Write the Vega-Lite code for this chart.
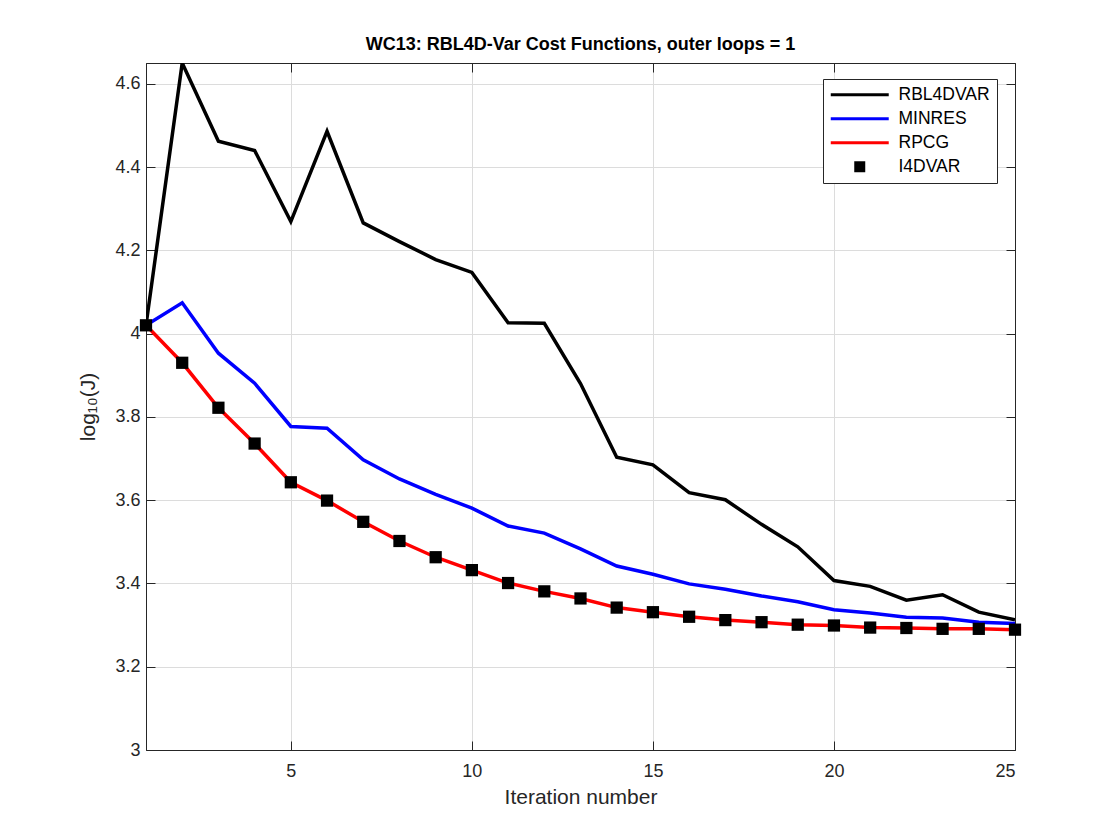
{
  "$schema": "https://vega.github.io/schema/vega-lite/v6.json",
  "autosize": {"type": "none"},
  "padding": {"left": 146, "top": 63, "right": 105, "bottom": 90},
  "width": 869,
  "height": 687,
  "background": "white",
  "config": {
    "font": "Liberation Sans",
    "view": {"stroke": "#262626", "strokeWidth": 1}
  },
  "title": {
    "text": "WC13: RBL4D-Var Cost Functions, outer loops = 1",
    "fontSize": 18,
    "fontWeight": "bold",
    "color": "#000000",
    "anchor": "middle",
    "offset": 9
  },
  "data": {
    "values": [
      {"iter": 1, "series": "RBL4DVAR", "value": 4.02},
      {"iter": 2, "series": "RBL4DVAR", "value": 4.65},
      {"iter": 3, "series": "RBL4DVAR", "value": 4.462},
      {"iter": 4, "series": "RBL4DVAR", "value": 4.44},
      {"iter": 5, "series": "RBL4DVAR", "value": 4.269},
      {"iter": 6, "series": "RBL4DVAR", "value": 4.486},
      {"iter": 7, "series": "RBL4DVAR", "value": 4.266},
      {"iter": 8, "series": "RBL4DVAR", "value": 4.221},
      {"iter": 9, "series": "RBL4DVAR", "value": 4.178},
      {"iter": 10, "series": "RBL4DVAR", "value": 4.147},
      {"iter": 11, "series": "RBL4DVAR", "value": 4.026},
      {"iter": 12, "series": "RBL4DVAR", "value": 4.025},
      {"iter": 13, "series": "RBL4DVAR", "value": 3.88},
      {"iter": 14, "series": "RBL4DVAR", "value": 3.703},
      {"iter": 15, "series": "RBL4DVAR", "value": 3.685},
      {"iter": 16, "series": "RBL4DVAR", "value": 3.618},
      {"iter": 17, "series": "RBL4DVAR", "value": 3.601},
      {"iter": 18, "series": "RBL4DVAR", "value": 3.542},
      {"iter": 19, "series": "RBL4DVAR", "value": 3.488},
      {"iter": 20, "series": "RBL4DVAR", "value": 3.407},
      {"iter": 21, "series": "RBL4DVAR", "value": 3.393},
      {"iter": 22, "series": "RBL4DVAR", "value": 3.36},
      {"iter": 23, "series": "RBL4DVAR", "value": 3.373},
      {"iter": 24, "series": "RBL4DVAR", "value": 3.331},
      {"iter": 25, "series": "RBL4DVAR", "value": 3.313},
      {"iter": 1, "series": "MINRES", "value": 4.02},
      {"iter": 2, "series": "MINRES", "value": 4.074},
      {"iter": 3, "series": "MINRES", "value": 3.953},
      {"iter": 4, "series": "MINRES", "value": 3.881},
      {"iter": 5, "series": "MINRES", "value": 3.777},
      {"iter": 6, "series": "MINRES", "value": 3.773},
      {"iter": 7, "series": "MINRES", "value": 3.697},
      {"iter": 8, "series": "MINRES", "value": 3.651},
      {"iter": 9, "series": "MINRES", "value": 3.614},
      {"iter": 10, "series": "MINRES", "value": 3.581},
      {"iter": 11, "series": "MINRES", "value": 3.538},
      {"iter": 12, "series": "MINRES", "value": 3.521},
      {"iter": 13, "series": "MINRES", "value": 3.483},
      {"iter": 14, "series": "MINRES", "value": 3.442},
      {"iter": 15, "series": "MINRES", "value": 3.422},
      {"iter": 16, "series": "MINRES", "value": 3.399},
      {"iter": 17, "series": "MINRES", "value": 3.386},
      {"iter": 18, "series": "MINRES", "value": 3.37},
      {"iter": 19, "series": "MINRES", "value": 3.356},
      {"iter": 20, "series": "MINRES", "value": 3.337},
      {"iter": 21, "series": "MINRES", "value": 3.329},
      {"iter": 22, "series": "MINRES", "value": 3.319},
      {"iter": 23, "series": "MINRES", "value": 3.317},
      {"iter": 24, "series": "MINRES", "value": 3.307},
      {"iter": 25, "series": "MINRES", "value": 3.304},
      {"iter": 1, "series": "RPCG", "value": 4.02},
      {"iter": 2, "series": "RPCG", "value": 3.93},
      {"iter": 3, "series": "RPCG", "value": 3.822},
      {"iter": 4, "series": "RPCG", "value": 3.736},
      {"iter": 5, "series": "RPCG", "value": 3.643},
      {"iter": 6, "series": "RPCG", "value": 3.599},
      {"iter": 7, "series": "RPCG", "value": 3.548},
      {"iter": 8, "series": "RPCG", "value": 3.502},
      {"iter": 9, "series": "RPCG", "value": 3.463},
      {"iter": 10, "series": "RPCG", "value": 3.432},
      {"iter": 11, "series": "RPCG", "value": 3.401},
      {"iter": 12, "series": "RPCG", "value": 3.381},
      {"iter": 13, "series": "RPCG", "value": 3.364},
      {"iter": 14, "series": "RPCG", "value": 3.342},
      {"iter": 15, "series": "RPCG", "value": 3.331},
      {"iter": 16, "series": "RPCG", "value": 3.32},
      {"iter": 17, "series": "RPCG", "value": 3.312},
      {"iter": 18, "series": "RPCG", "value": 3.307},
      {"iter": 19, "series": "RPCG", "value": 3.301},
      {"iter": 20, "series": "RPCG", "value": 3.299},
      {"iter": 21, "series": "RPCG", "value": 3.294},
      {"iter": 22, "series": "RPCG", "value": 3.293},
      {"iter": 23, "series": "RPCG", "value": 3.291},
      {"iter": 24, "series": "RPCG", "value": 3.291},
      {"iter": 25, "series": "RPCG", "value": 3.289},
      {"iter": 1, "series": "I4DVAR", "value": 4.02},
      {"iter": 2, "series": "I4DVAR", "value": 3.93},
      {"iter": 3, "series": "I4DVAR", "value": 3.822},
      {"iter": 4, "series": "I4DVAR", "value": 3.736},
      {"iter": 5, "series": "I4DVAR", "value": 3.643},
      {"iter": 6, "series": "I4DVAR", "value": 3.599},
      {"iter": 7, "series": "I4DVAR", "value": 3.548},
      {"iter": 8, "series": "I4DVAR", "value": 3.502},
      {"iter": 9, "series": "I4DVAR", "value": 3.463},
      {"iter": 10, "series": "I4DVAR", "value": 3.432},
      {"iter": 11, "series": "I4DVAR", "value": 3.401},
      {"iter": 12, "series": "I4DVAR", "value": 3.381},
      {"iter": 13, "series": "I4DVAR", "value": 3.364},
      {"iter": 14, "series": "I4DVAR", "value": 3.342},
      {"iter": 15, "series": "I4DVAR", "value": 3.331},
      {"iter": 16, "series": "I4DVAR", "value": 3.32},
      {"iter": 17, "series": "I4DVAR", "value": 3.312},
      {"iter": 18, "series": "I4DVAR", "value": 3.307},
      {"iter": 19, "series": "I4DVAR", "value": 3.301},
      {"iter": 20, "series": "I4DVAR", "value": 3.299},
      {"iter": 21, "series": "I4DVAR", "value": 3.294},
      {"iter": 22, "series": "I4DVAR", "value": 3.293},
      {"iter": 23, "series": "I4DVAR", "value": 3.291},
      {"iter": 24, "series": "I4DVAR", "value": 3.291},
      {"iter": 25, "series": "I4DVAR", "value": 3.289}
    ]
  },
  "layer": [
    {
      "transform": [{"filter": "datum.series !== 'I4DVAR'"}],
      "mark": {"type": "line", "strokeWidth": 3.5, "clip": true},
      "encoding": {
        "x": {
          "field": "iter", "type": "quantitative",
          "scale": {"domain": [1, 25], "nice": false, "zero": false},
          "axis": {
            "orient": "bottom",
            "title": "Iteration number",
            "titleFontSize": 21, "titleFontWeight": "normal", "titleColor": "#262626",
            "titlePadding": 6,
            "values": [5, 10, 15, 20, 25],
            "labelFontSize": 18, "labelColor": "#262626",
            "tickSize": -9, "tickColor": "#262626", "labelPadding": 21,
            "domainColor": "#262626",
            "grid": true, "gridColor": "#dcdcdc", "gridWidth": 1
          }
        },
        "y": {
          "field": "value", "type": "quantitative",
          "scale": {"domain": [3, 4.65], "nice": false, "zero": false},
          "axis": {
            "orient": "left",
            "title": "log₁₀(J)",
            "titleFontSize": 21, "titleFontWeight": "normal", "titleColor": "#262626",
            "titlePadding": 16,
            "values": [3, 3.2, 3.4, 3.6, 3.8, 4, 4.2, 4.4, 4.6],
            "format": "~g",
            "labelFontSize": 18, "labelColor": "#262626",
            "tickSize": -9, "tickColor": "#262626", "labelPadding": 15,
            "domainColor": "#262626",
            "grid": true, "gridColor": "#dcdcdc", "gridWidth": 1
          }
        },
        "color": {
          "field": "series", "type": "nominal",
          "scale": {
            "domain": ["RBL4DVAR", "MINRES", "RPCG", "I4DVAR"],
            "range": ["#000000", "#0000ff", "#ff0000", "#000000"]
          },
          "legend": {
            "title": null,
            "orient": "none",
            "legendX": 677,
            "legendY": 16,
            "direction": "vertical",
            "fillColor": "white",
            "strokeColor": "#262626",
            "padding": 7,
            "labelFontSize": 17.5,
            "labelColor": "#000000",
            "symbolSize": 121,
            "symbolStrokeWidth": 3.2,
            "symbolOffset": 21,
            "labelOffset": 30,
            "rowPadding": 5,
            "encode": {
              "symbols": {
                "update": {
                  "size": {"value": 121},
                  "shape": {"signal": "datum.value === 'I4DVAR' ? 'square' : 'M-5.27,0H5.27'"},
                  "fill": {"signal": "datum.value === 'I4DVAR' ? 'black' : 'transparent'"},
                  "stroke": {"signal": "datum.value === 'I4DVAR' ? 'transparent' : scale('color', datum.value)"},
                  "strokeWidth": {"signal": "datum.value === 'I4DVAR' ? 0 : 3.2"},
                  "opacity": {"value": 1}
                }
              }
            }
          }
        },
        "order": {"field": "iter", "type": "quantitative"}
      }
    },
    {
      "transform": [{"filter": "datum.series === 'I4DVAR'"}],
      "mark": {"type": "point", "shape": "square", "filled": true, "size": 150, "opacity": 1},
      "encoding": {
        "x": {
          "field": "iter", "type": "quantitative",
          "scale": {"domain": [1, 25], "nice": false, "zero": false},
          "axis": {
            "orient": "top", "title": null, "labels": false, "grid": false,
            "values": [5, 10, 15, 20, 25],
            "tickSize": -9, "tickColor": "#262626", "domainColor": "#262626"
          }
        },
        "y": {
          "field": "value", "type": "quantitative",
          "scale": {"domain": [3, 4.65], "nice": false, "zero": false},
          "axis": {
            "orient": "right", "title": null, "labels": false, "grid": false,
            "values": [3, 3.2, 3.4, 3.6, 3.8, 4, 4.2, 4.4, 4.6],
            "tickSize": -9, "tickColor": "#262626", "domainColor": "#262626"
          }
        },
        "color": {"field": "series", "type": "nominal"}
      }
    }
  ],
  "resolve": {"axis": {"x": "independent", "y": "independent"}}
}
